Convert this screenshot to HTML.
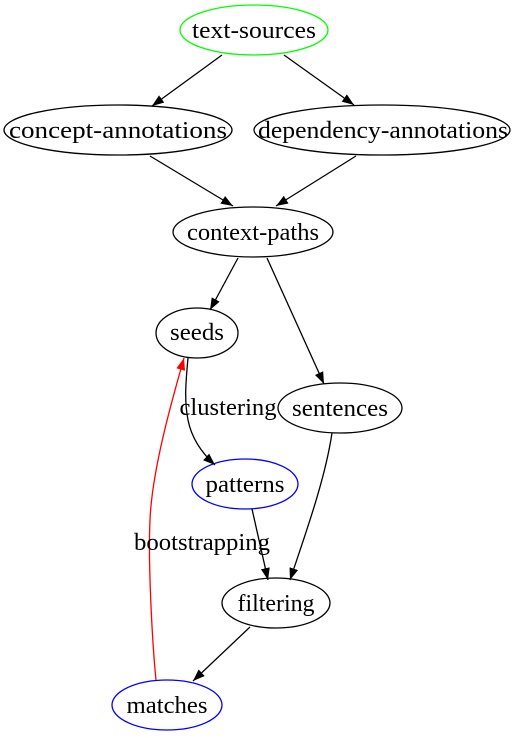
<!DOCTYPE html>
<html><head><style>body{margin:0;background:#fff}svg{display:block}text{font-family:"Liberation Serif",serif;font-size:24px;text-anchor:middle}</style></head>
<body>
<svg width="528" height="738" viewBox="0 0 528 738" xmlns="http://www.w3.org/2000/svg">
<defs>
<marker id="a" markerWidth="12" markerHeight="9" refX="12" refY="4.5" orient="auto" markerUnits="userSpaceOnUse"><path d="M0,0L12,4.5L0,9Z" fill="#000"/></marker>
<marker id="r" markerWidth="12" markerHeight="9" refX="12" refY="4.5" orient="auto" markerUnits="userSpaceOnUse"><path d="M0,0L12,4.5L0,9Z" fill="red"/></marker>
</defs>
<g fill="none" stroke-width="1.3">
<ellipse cx="254" cy="30" rx="74" ry="25" stroke="#0f0"/>
<ellipse cx="118" cy="130" rx="114" ry="25" stroke="#000"/>
<ellipse cx="382" cy="130" rx="128" ry="25" stroke="#000"/>
<ellipse cx="253" cy="232" rx="80" ry="25" stroke="#000"/>
<ellipse cx="197" cy="333" rx="41" ry="25" stroke="#000"/>
<ellipse cx="340" cy="408" rx="62" ry="25" stroke="#000"/>
<ellipse cx="245" cy="484" rx="53" ry="25" stroke="#00f"/>
<ellipse cx="276" cy="603" rx="54" ry="25" stroke="#000"/>
<ellipse cx="167" cy="705" rx="55" ry="25" stroke="#00f"/>
<g stroke="#000">
<path d="M222,55L152,106" marker-end="url(#a)"/>
<path d="M284,55L354,105" marker-end="url(#a)"/>
<path d="M150,156L233,206" marker-end="url(#a)"/>
<path d="M356,156L276,206" marker-end="url(#a)"/>
<path d="M238,258L210,310" marker-end="url(#a)"/>
<path d="M267,258L324,384" marker-end="url(#a)"/>
<path d="M188,358C186,380 184,400 188,420C192,440 204,455 215,465" marker-end="url(#a)"/>
<path d="M252,509L268,580" marker-end="url(#a)"/>
<path d="M332,433C325,480 305,535 290,580" marker-end="url(#a)"/>
<path d="M250,627L193,681" marker-end="url(#a)"/>
</g>
<path d="M156,680C152,640 148,560 150,520C152,470 172,400 184,358" stroke="red" marker-end="url(#r)"/>
</g>
<g lengthAdjust="spacingAndGlyphs">
<text x="254" y="38" textLength="124" lengthAdjust="spacingAndGlyphs">text-sources</text>
<text x="118" y="138" textLength="218" lengthAdjust="spacingAndGlyphs">concept-annotations</text>
<text x="383" y="138" textLength="250" lengthAdjust="spacingAndGlyphs">dependency-annotations</text>
<text x="253" y="240" textLength="132" lengthAdjust="spacingAndGlyphs">context-paths</text>
<text x="197" y="340" textLength="54" lengthAdjust="spacingAndGlyphs">seeds</text>
<text x="340" y="416" textLength="96" lengthAdjust="spacingAndGlyphs">sentences</text>
<text x="245" y="492" textLength="79" lengthAdjust="spacingAndGlyphs">patterns</text>
<text x="276" y="611" textLength="77" lengthAdjust="spacingAndGlyphs">filtering</text>
<text x="167" y="713" textLength="81" lengthAdjust="spacingAndGlyphs">matches</text>
<text x="228" y="415" textLength="97" lengthAdjust="spacingAndGlyphs">clustering</text>
<text x="202" y="550" textLength="136" lengthAdjust="spacingAndGlyphs">bootstrapping</text>
</g>
</svg>
</body></html>
